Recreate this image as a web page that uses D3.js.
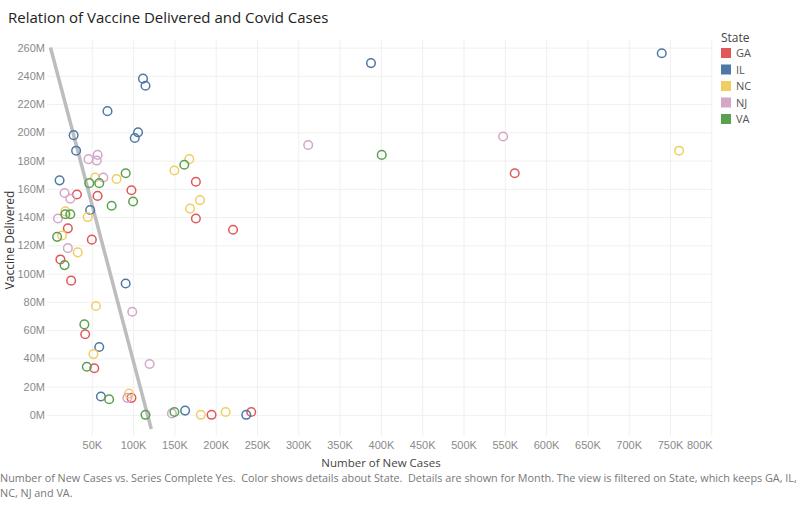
<!DOCTYPE html>
<html lang="en">
<head>
<meta charset="utf-8">
<title>Relation of Vaccine Delivered and Covid Cases</title>
<style>
  body { margin: 0; background: #fff; font-family: "Open Sans", "Noto Sans", sans-serif; }
  .tick text { fill: #8a8a8a; font-size: 11px; }
  .domain { display: none; }
  .tick line { stroke: #f0f0f0; }
</style>
</head>
<body>
<svg id="chart" width="806" height="506"></svg>
<script src="https://cdn.jsdelivr.net/npm/d3@7"></script>
<script>
// [new cases K, vaccine delivered M]
var states = ["GA", "IL", "NC", "NJ", "VA"];
var colors = ["#e15759", "#4e79a7", "#f1ce63", "#d4a6c8", "#59a14f"];
var gaPoints = [[32,156],[57,155],[98,159],[176,165],[176,139],[221,131],[21,132],[50,124],[12,110],[25,95],[42,57],[53,33],[98,12],[195,0],[243,2],[562,171]];
var ilPoints = [[112,238],[115,233],[69,215],[28,198],[31,187],[106,200],[102,196],[11,166],[48,145],[91,93],[59,48],[61,13],[163,3],[237,0],[388,249],[740,256]];
var ncPoints = [[168,181],[150,173],[54,168],[80,167],[181,152],[169,146],[18,144],[45,140],[14,127],[33,115],[55,77],[52,43],[95,15],[182,0],[212,2],[761,187]];
var njPoints = [[46,181],[57,184],[56,180],[64,168],[17,157],[24,153],[9,139],[21,118],[99,73],[120,36],[93,12],[147,1],[312,191],[548,197]];
var vaPoints = [[91,171],[47,164],[59,164],[74,148],[100,151],[18,142],[24,142],[8,126],[17,106],[41,64],[44,34],[71,11],[115,0],[150,2],[162,177],[401,184]];
var trendX = [0, 122];
var trendY = [260, -10];
var xTicks = d3.range(50, 801, 50);
var yTicks = d3.range(0, 261, 20);

var series = [gaPoints, ilPoints, ncPoints, njPoints, vaPoints];
var svg = d3.select("#chart");
var x = d3.scaleLinear().domain([0, 800]).range([50.5, 711.3]);
var y = d3.scaleLinear().domain([-15, 265]).range([436, 40.5]);

svg.append("g").attr("transform", "translate(0,436)")
  .call(d3.axisBottom(x).tickValues(xTicks).tickSize(-396).tickPadding(5)
    .tickFormat(function(d) { return d + "K"; }));
svg.append("g").attr("transform", "translate(47,0)")
  .call(d3.axisLeft(y).tickValues(yTicks).tickSize(-665).tickPadding(2)
    .tickFormat(function(d) { return d + "M"; }));
svg.selectAll(".tick line").attr("transform", null);
svg.selectAll(".tick text").filter(function(d) { return d === 800; }).attr("dx", -12);

svg.append("line")
  .attr("x1", x(trendX[0])).attr("y1", y(trendY[0]))
  .attr("x2", x(trendX[1])).attr("y2", y(trendY[1]))
  .attr("stroke", "#bdbdbd").attr("stroke-width", 3.5);

series.forEach(function(pts, i) {
  svg.append("g").selectAll("circle").data(pts).enter().append("circle")
    .attr("cx", function(d) { return x(d[0]); })
    .attr("cy", function(d) { return y(d[1]); })
    .attr("r", 4.3)
    .attr("fill", "none")
    .attr("stroke", colors[i])
    .attr("stroke-width", 1.5);
});

svg.append("text").attr("x", 8).attr("y", 23).attr("font-size", 15).attr("fill", "#222")
  .text("Relation of Vaccine Delivered and Covid Cases");
svg.append("text").attr("x", 381).attr("y", 467).attr("text-anchor", "middle")
  .attr("font-size", 11.5).attr("fill", "#444").text("Number of New Cases");
svg.append("text").attr("transform", "translate(14,240) rotate(-90)").attr("text-anchor", "middle")
  .attr("font-size", 12).attr("fill", "#333").text("Vaccine Delivered");

var legend = svg.append("g").attr("transform", "translate(721,38)");
legend.append("text").attr("x", 0).attr("y", 4).attr("font-size", 12).attr("fill", "#444").text("State");
states.forEach(function(s, i) {
  legend.append("rect").attr("x", 0).attr("y", 10 + i * 16.5).attr("width", 10).attr("height", 10).attr("fill", colors[i]);
  legend.append("text").attr("x", 15).attr("y", 19 + i * 16.5).attr("font-size", 11).attr("fill", "#555").text(s);
});

var caption = ["Number of New Cases vs. Series Complete Yes.  Color shows details about State.  Details are shown for Month. The view is filtered on State, which keeps GA, IL,",
  "NC, NJ and VA."];
caption.forEach(function(c, i) {
  svg.append("text").attr("x", 0).attr("y", 482 + i * 15).attr("font-size", 10.8).attr("fill", "#777")
    .attr("xml:space", "preserve").style("white-space", "pre").text(c);
});
</script>
</body>
</html>
